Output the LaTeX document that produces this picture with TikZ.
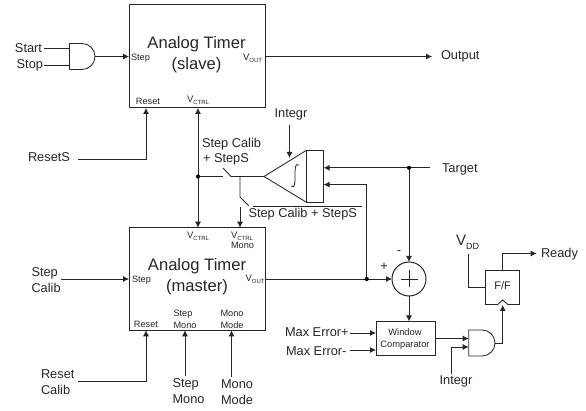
\documentclass[tikz,border=0pt]{standalone}
\usepackage{fontspec}
\setmainfont{Liberation Sans}
\usetikzlibrary{arrows.meta}
\newcommand{\vsub}[3]{{\fontsize{#1}{#1}\selectfont V\raisebox{-0.25em}{\fontsize{#2}{#2}\selectfont #3}}}
\tikzset{
  wire/.style={draw=black!85,line width=0.85pt},
  arrow/.style={wire,-{Latex[length=6pt,width=6pt]}},
  twoway/.style={wire,{Latex[length=6pt,width=6pt]}-{Latex[length=6pt,width=6pt]}},
  block/.style={draw=black!85,line width=1pt,fill=white,inner sep=0pt,outer sep=0pt},
  lab/.style={inner sep=0pt,outer sep=0pt,text=black!85,font=\fontsize{12.8}{14}\selectfont,text height=0.72em,text depth=0.2em},
  big/.style={lab,font=\fontsize{16.6}{19}\selectfont},
  tiny/.style={lab,font=\fontsize{9.2}{10}\selectfont},
  dot/.style={circle,fill=black,minimum size=4.2pt,inner sep=0pt,outer sep=0pt}
}
\begin{document}
\begin{tikzpicture}[x=1pt,y=-1pt]
\useasboundingbox[fill=white] (0,0) rectangle (586,411);
% blocks
\node[block,minimum width=136pt,minimum height=103pt] (slave) at (197,56.5) {};
\node[block,minimum width=136pt,minimum height=102.5pt] (master) at (197,279) {};
\node[block,minimum width=59pt,minimum height=34.5pt] (win) at (405.5,338.7) {};
\node[block,minimum width=34pt,minimum height=34.5pt] (ff) at (502.7,287.7) {};
\node[block,minimum width=17.5pt,minimum height=51.5pt] (integ) at (314.8,176.3) {};
\node[block,circle,minimum size=34pt] (sum) at (409,279) {};
% sum sign
\draw[wire] (sum.center) ++(-8.5,0) -- ++(17,0);
\draw[wire] (sum.center) ++(0,-8.5) -- ++(0,17);
% AND gates
\coordinate (a1nw) at (69.5,43.5); \coordinate (a1sw) at (69.5,69.5); \coordinate (a1o) at (95,56.5);
\draw[wire] (a1nw) -- ++(12.5,0) arc[start angle=90,end angle=-90,radius=13pt] -- (a1sw) -- cycle;
\coordinate (a2nw) at (468.7,330); \coordinate (a2sw) at (468.7,356); \coordinate (a2o) at (495,343);
\draw[wire] (a2nw) -- ++(13.3,0) arc[start angle=90,end angle=-90,radius=13pt] -- (a2sw) -- cycle;
% integrator triangle
\coordinate (apex) at (264,176.5);
\draw[wire] (apex) -- (integ.north west) (apex) -- (integ.south west);
\draw[wire] (291,186) .. controls (295,188.5) and (295,184) .. (295,176) .. controls (295,168) and (295,163) .. (299,165);
% text: slave
\node[big] (t1) at (196.5,46) {Analog Timer};
\node[big] (t2) at (196.5,66.5) {(slave)};
\node[tiny,anchor=west] (t3) at (131,57.5) {Step};
\node[anchor=center,lab] (t4) at (252.5,58) {\vsub{9.5}{6}{OUT}};
\node[tiny] (t5) at (148,101.5) {Reset};
\node[lab] (t6) at (198,99.5) {\vsub{9.5}{6}{CTRL}};
% text: master
\node[big] (t7) at (197,268) {Analog Timer};
\node[big] (t8) at (197,289) {(master)};
\node[tiny,anchor=west] (t9) at (132,280) {Step};
\node[lab] (t10) at (255,279) {\vsub{9.5}{6}{OUT}};
\node[lab] (t11) at (198,236) {\vsub{9.5}{6}{CTRL}};
\node[lab,anchor=west] (t12) at (231,236) {\vsub{9.5}{6}{CTRL}};
\node[tiny,anchor=west] (t13) at (231,245.7) {Mono};
\node[tiny] (t14) at (146,325) {Reset};
\node[tiny,anchor=west] (t15) at (173.5,314) {Step};
\node[tiny,anchor=west] (t16) at (173.5,325.5) {Mono};
\node[tiny,anchor=west] (t17) at (220.5,314) {Mono};
\node[tiny,anchor=west] (t18) at (220.5,325.5) {Mode};
% outer labels
\node[lab,anchor=east] (start) at (42,50) {Start};
\node[lab,anchor=east] (stop) at (43,66) {Stop};
\node[lab,anchor=west] (output) at (441,57) {Output};
\node[lab,anchor=west] (resets) at (28,159) {ResetS};
\node[lab,anchor=west] (sc1) at (202,145) {Step Calib};
\node[lab,anchor=west] (sc2) at (203,160) {+ StepS};
\node[lab] (integr) at (291,115) {Integr};
\node[lab,anchor=west] (target) at (442,170) {Target};
\node[lab,anchor=west] (scb) at (248.5,214.5) {Step Calib + StepS};
\node[lab,anchor=west] (stepcal1) at (31.5,274) {Step};
\node[lab,anchor=west] (stepcal2) at (31.5,290) {Calib};
\node[lab,anchor=west] (rc1) at (41,376) {Reset};
\node[lab,anchor=west] (rc2) at (41,392) {Calib};
\node[lab,anchor=west] (sm1) at (172.5,384.5) {Step};
\node[lab,anchor=west] (sm2) at (172.5,400.5) {Mono};
\node[lab,anchor=west] (mm1) at (221,386) {Mono};
\node[lab,anchor=west] (mm2) at (221,401.5) {Mode};
\node[lab,anchor=west] (maxp) at (285,333.5) {Max Error+};
\node[lab,anchor=west] (maxm) at (286,353) {Max Error-};
\node[tiny,font=\fontsize{9.3}{10}\selectfont] (w1) at (405,333) {Window};
\node[tiny,font=\fontsize{9.3}{10}\selectfont] (w2) at (405,345) {Comparator};
\node[lab,font=\fontsize{11}{12}\selectfont] (fft) at (502.7,287) {F/F};
\node[lab] (integr2) at (456,381.5) {Integr};
\node[lab,anchor=west] (ready) at (541,255) {Ready};
\node[lab,anchor=center] (vdd) at (467.5,243) {\vsub{15}{9}{DD}};
\node[lab] (minus) at (399,252) {-};
\node[lab] (plus) at (384,268) {+};
% named junctions
\coordinate (startend) at (44,48); \coordinate (a1i1) at (69.5,48);
\coordinate (stopend) at (44,65); \coordinate (a1i2) at (69.5,65);
\coordinate (slstep) at (129,56.5); \coordinate (slout) at (265,56.5); \coordinate (outtip) at (432,56.5);
\coordinate (rs0) at (78,159); \coordinate (rs1) at (146,159); \coordinate (rs2) at (146,108);
\coordinate (vs) at (198,108); \coordinate (vm) at (198,227.7);
\coordinate (j1) at (198,176.5); \coordinate (sw0) at (223,176.5); \coordinate (sw0t) at (223,168);
\coordinate (sw1) at (231,176.5); \coordinate (j2) at (240,176.5);
\coordinate (b1) at (240,197); \coordinate (b2) at (248.6,205.7); \coordinate (b3) at (240,207); \coordinate (b4) at (240,227.7);
\coordinate (ob1) at (252.7,206.3); \coordinate (ob2) at (361.7,206.3);
\coordinate (ig0) at (289.5,125); \coordinate (ig1) at (289.5,158);
\coordinate (tg0) at (430,167.8); \coordinate (tg1) at (323.6,167.8); \coordinate (tgj) at (409,167.8);
\coordinate (fb0) at (366.7,279); \coordinate (fb1) at (366.7,184.6); \coordinate (fb2) at (323.6,184.6);
\coordinate (msin0) at (61,279); \coordinate (msin1) at (129,279); \coordinate (msout) at (265,279);
\coordinate (rc0) at (78,381.5); \coordinate (rca) at (146,381.5); \coordinate (rcb) at (146,330.3);
\coordinate (smb) at (185,376); \coordinate (smt) at (185,330.3);
\coordinate (mmb) at (231.5,377); \coordinate (mmt) at (231.5,330.3);
\coordinate (mp0) at (350,333); \coordinate (mp1) at (376,333);
\coordinate (mm0) at (350,350); \coordinate (mm3) at (376,350);
\coordinate (wo) at (435,338.5); \coordinate (a2i1) at (468.7,338.5);
\coordinate (ii0) at (451.5,374); \coordinate (ii1) at (451.5,347); \coordinate (a2i2) at (468.7,347);
\coordinate (a2a) at (502.7,343); \coordinate (ffck) at (502.7,305);
\coordinate (ckl) at (497,305); \coordinate (ckt) at (502.7,300); \coordinate (ckr) at (508.4,305);
\coordinate (vd0) at (468.7,254); \coordinate (vd1) at (468.7,287.5); \coordinate (vd2) at (485.7,287.5);
\coordinate (ffo) at (502.7,270.5); \coordinate (ffu) at (502.7,253.5); \coordinate (rdy) at (536.7,253.5);
% connectors
\draw[wire] (startend) -- (a1i1);
\draw[wire] (stopend) -- (a1i2);
\draw[arrow] (a1o) -- (slstep);
\draw[arrow] (slout) -- (outtip);
\draw[arrow] (rs0) -- (rs1) -- (rs2);
\draw[twoway] (vs) -- (vm);
\node[dot] (d1) at (j1) {};
\draw[wire] (d1) -- (sw0);
\draw[wire] (sw0t) -- (sw1) -- (apex);
\draw[wire] (j2) -- (b1) -- (b2);
\draw[arrow] (b3) -- (b4);
\draw[wire] (ob1) -- (ob2);
\draw[arrow] (ig0) -- (ig1);
\draw[arrow] (tg0) -- (tg1);
\node[dot] (d2) at (tgj) {};
\draw[arrow] (d2) -- (sum.north);
\draw[arrow] (msin0) -- (msin1);
\draw[arrow] (msout) -- (sum.west);
\node[dot] (d3) at (fb0) {};
\draw[arrow] (d3) -- (fb1) -- (fb2);
\draw[arrow] (rc0) -- (rca) -- (rcb);
\draw[arrow] (smb) -- (smt);
\draw[arrow] (mmb) -- (mmt);
\draw[arrow] (sum.south) -- (win.north -| sum.south);
\draw[arrow] (mp0) -- (mp1);
\draw[arrow] (mm0) -- (mm3);
\draw[arrow] (wo) -- (a2i1);
\draw[arrow] (ii0) -- (ii1) -- (a2i2);
\fill[white] (ckl) -- (ckt) -- (ckr) -- cycle;
\draw[white,line width=1.4pt] (ckl) -- (ckr);
\draw[wire] (ckl) -- (ckt) -- (ckr);
\draw[arrow] (a2o) -- (a2a) -- (ffck);
\draw[wire] (vd0) -- (vd1) -- (vd2);
\draw[arrow] (ffo) -- (ffu) -- (rdy);
\end{tikzpicture}
\end{document}
